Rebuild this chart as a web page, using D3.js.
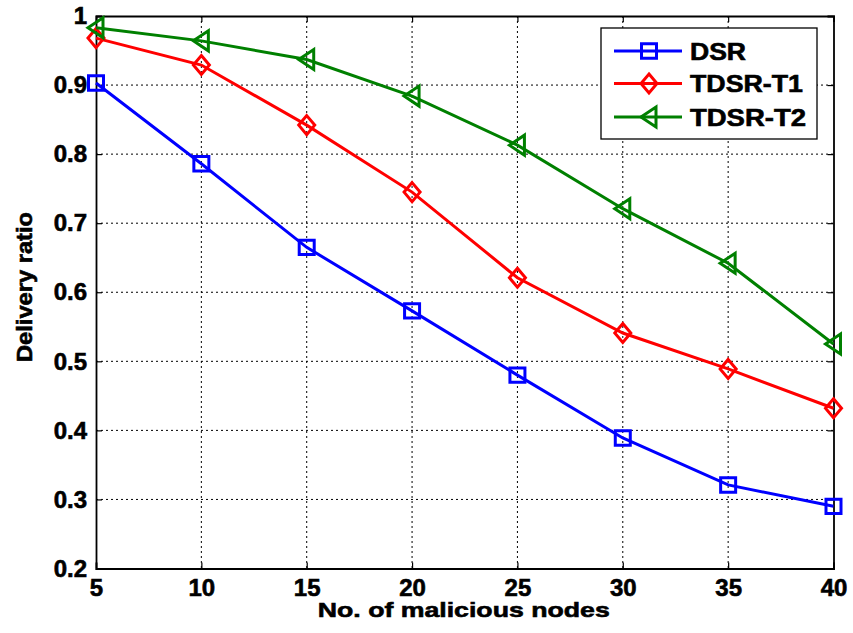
<!DOCTYPE html>
<html><head><meta charset="utf-8">
<script src="https://cdn.jsdelivr.net/npm/d3@7"></script>
<style>body{margin:0;background:#fff}svg{display:block}text{font-family:"Liberation Sans",Arial,sans-serif;font-weight:bold;fill:#000;stroke:#000;stroke-width:0.6px}</style>
</head><body><svg id="c" width="853" height="633"></svg>
<script>
const xValues = [5, 10, 15, 20, 25, 30, 35, 40];
const dsr   = [0.903, 0.786, 0.665, 0.573, 0.480, 0.389, 0.321, 0.290];
const tdsr1 = [0.968, 0.929, 0.842, 0.745, 0.621, 0.541, 0.489, 0.432];
const tdsr2 = [0.983, 0.964, 0.937, 0.884, 0.813, 0.721, 0.642, 0.525];
const seriesNames = ["DSR", "TDSR-T1", "TDSR-T2"];
const seriesColors = ["#0000ff", "#ff0000", "#008000"];
const seriesMarkers = ["square", "diamond", "triangle"];
const xTicks = [5, 10, 15, 20, 25, 30, 35, 40];
const yTicks = [0.2, 0.3, 0.4, 0.5, 0.6, 0.7, 0.8, 0.9, 1];
const xLabel = "No. of malicious nodes";
const yLabel = "Delivery ratio";

const svg = d3.select("#c");
const L = 96, R = 833.5, T = 16, B = 568.5;
const x = d3.scaleLinear().domain([5, 40]).range([L, R]);
const y = d3.scaleLinear().domain([0.2, 1]).range([B, T]);

// grid
const g = svg.append("g");
g.selectAll(".gx").data(xTicks.slice(1, -1)).enter().append("line")
  .attr("x1", d => x(d)).attr("x2", d => x(d)).attr("y1", T).attr("y2", B)
  .attr("stroke", "#000").attr("stroke-width", 1).attr("stroke-dasharray", "2,3");
g.selectAll(".gy").data(yTicks.slice(1, -1)).enter().append("line")
  .attr("y1", d => y(d)).attr("y2", d => y(d)).attr("x1", L).attr("x2", R)
  .attr("stroke", "#000").attr("stroke-width", 1).attr("stroke-dasharray", "2,3");

// axes
const xAxis = svg.append("g").attr("transform", `translate(0,${B})`)
  .call(d3.axisBottom(x).tickValues(xTicks).tickSize(-6).tickPadding(10).tickFormat(d3.format("d")));
const xAxisTop = svg.append("g").attr("transform", `translate(0,${T})`)
  .call(d3.axisTop(x).tickValues(xTicks).tickSize(-6).tickFormat(""));
const yAxis = svg.append("g").attr("transform", `translate(${L},0)`)
  .call(d3.axisLeft(y).tickValues(yTicks).tickSize(-6).tickPadding(9).tickFormat(d => d === 1 ? "1" : d3.format(".1f")(d)));
const yAxisR = svg.append("g").attr("transform", `translate(${R},0)`)
  .call(d3.axisRight(y).tickValues(yTicks).tickSize(-6).tickFormat(""));
[xAxis, xAxisTop, yAxis, yAxisR].forEach(a => {
  a.select(".domain").attr("stroke", "#000").attr("stroke-width", 1.8);
  a.selectAll(".tick line").attr("stroke", "#000").attr("stroke-width", 1.2);
});
xAxis.selectAll(".tick text").style("font-size", "24px").attr("dy", "0.71em").attr("fill", "#000");
yAxis.selectAll(".tick text").style("font-size", "24px").attr("fill", "#000");

// axis titles
svg.append("text").attr("x", (L + R) / 2 - 1).attr("y", 617).attr("text-anchor", "middle")
  .style("font-size", "21px").attr("textLength", 292).attr("lengthAdjust", "spacingAndGlyphs").text(xLabel);
svg.append("text").attr("transform", "translate(32,287) rotate(-90)").attr("text-anchor", "middle")
  .style("font-size", "22px").attr("textLength", 150).attr("lengthAdjust", "spacingAndGlyphs").text(yLabel);

function markerPath(type) {
  if (type === "square") return "M-7.5,-7.2H7.5V7.2H-7.5Z";
  if (type === "diamond") return "M0,-9.5L8,0L0,9.5L-8,0Z";
  return "M-8,0L7,-10L7,10Z";
}

const data = [dsr, tdsr1, tdsr2];
const line = d3.line().x((d, i) => x(xValues[i])).y(d => y(d));
data.forEach((vals, si) => {
  const sg = svg.append("g");
  sg.append("path").datum(vals).attr("d", line).attr("fill", "none")
    .attr("stroke", seriesColors[si]).attr("stroke-width", 3);
  sg.selectAll("path.m").data(vals).enter().append("path").attr("class", "m")
    .attr("transform", (d, i) => `translate(${x(xValues[i])},${y(d)})`)
    .attr("d", markerPath(seriesMarkers[si])).attr("fill", "none")
    .attr("stroke", seriesColors[si]).attr("stroke-width", 3);
});

// legend
const lg = svg.append("g");
lg.append("rect").attr("x", 601).attr("y", 28).attr("width", 216).attr("height", 111)
  .attr("fill", "#fff").attr("stroke", "#000").attr("stroke-width", 1.3);
const rowsY = [51, 83.5, 117];
const legendWidths = [56, 113, 116];
seriesNames.forEach((n, i) => {
  lg.append("line").attr("x1", 614).attr("x2", 682).attr("y1", rowsY[i]).attr("y2", rowsY[i])
    .attr("stroke", seriesColors[i]).attr("stroke-width", 3);
  lg.append("path").attr("transform", `translate(649,${rowsY[i]})`).attr("d", markerPath(seriesMarkers[i]))
    .attr("fill", "none").attr("stroke", seriesColors[i]).attr("stroke-width", 3);
  lg.append("text").attr("x", 690).attr("y", rowsY[i] + 8.5).style("font-size", "23px")
    .attr("textLength", legendWidths[i]).attr("lengthAdjust", "spacingAndGlyphs").text(n);
});
</script></body></html>
